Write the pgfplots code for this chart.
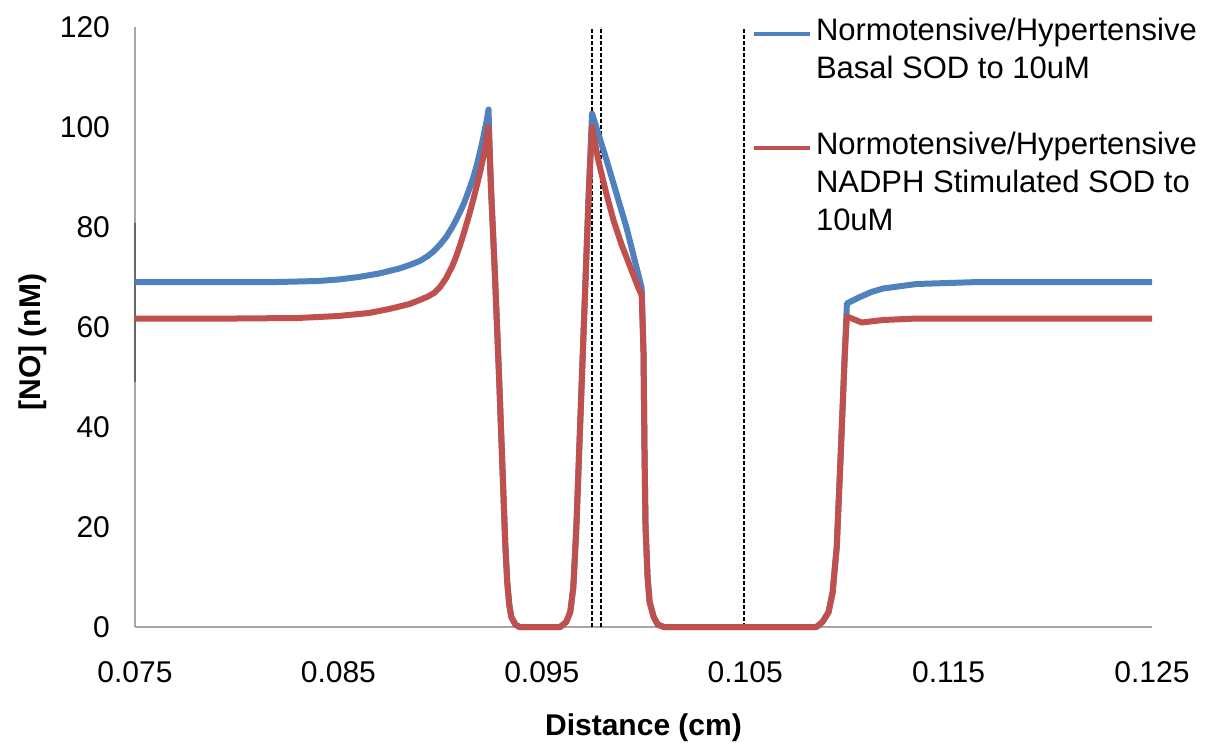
\documentclass[border=0pt]{standalone}
\usepackage{fontspec}
\setmainfont{Liberation Sans}
\usepackage{pgfplots}
\pgfplotsset{compat=1.18}
\definecolor{serblue}{HTML}{4F81BD}
\definecolor{serred}{HTML}{C0504D}
\definecolor{axgrey}{HTML}{A6A6A6}
\begin{document}
\begin{tikzpicture}
\useasboundingbox (-67.5pt,-59pt) rectangle (536.5pt,313.5pt);
\begin{axis}[
 scale only axis, width=508.5pt, height=300pt,
 xmin=0.075, xmax=0.125, ymin=0, ymax=120,
 axis x line=bottom, axis y line=left,
 axis line style={axgrey, line width=1pt, -},
 major tick length=0pt,
 xtick={0.075,0.085,0.095,0.105,0.115,0.125},
 xticklabels={0.075,0.085,0.095,0.105,0.115,0.125},
 ytick={0,20,40,60,80,100,120},
 tick label style={font=\fontsize{15}{18}\selectfont},
 xticklabel style={yshift=-13.5pt},
 yticklabel style={xshift=-9pt},
 /pgf/number format/assume math mode=true,
 xlabel={Distance (cm)},
 ylabel={[NO] (nM)},
 every axis x label/.style={at={(axis description cs:0.5,0)}, anchor=center, yshift=-50.5pt, font=\fontsize{15}{18}\selectfont\bfseries},
 every axis y label/.style={at={(axis description cs:0,0.475)}, anchor=center, xshift=-51pt, rotate=90, font=\fontsize{15}{18}\selectfont\bfseries},
 clip=false,
 legend cell align=left,
 legend style={draw=none, fill=none, at={(axis description cs:0.6067,1.02)}, anchor=north west,
   inner sep=0pt, outer sep=0pt, row sep=0pt, column sep=2pt,
   font=\fontsize{15.5}{18}\selectfont,
   nodes={inner sep=0pt, text height=13pt, text depth=6pt}},
 legend image code/.code={\path (0pt,-9pt); \draw[#1, line width=2pt] (0pt,0pt) -- (28pt,0pt);},
]
% dark segment on left axis
\addplot[forget plot, color=black!60, line width=1pt] coordinates {(0.075,49) (0.075,80.8)};
% dashed reference lines
\addplot[forget plot, black, line width=1.3pt, dash pattern=on 2pt off 1pt] coordinates {(0.09747,0) (0.09747,120)};
\addplot[forget plot, black, line width=0.9pt, dash pattern=on 2pt off 1pt] coordinates {(0.09791,0) (0.09791,120)};
\addplot[forget plot, black, line width=0.9pt, dash pattern=on 2pt off 1pt] coordinates {(0.10494,0) (0.10494,120)};
% Basal SOD
\addplot[forget plot, serblue, line width=3pt, line join=round] table {
x y
0.075 69
0.080 69
0.082 69
0.084 69.2
0.085 69.5
0.086 70
0.087 70.7
0.088 71.7
0.0885 72.4
0.089 73.2
0.0894 74.2
0.0897 75.2
0.0900 76.5
0.0903 78
0.0906 80
0.0908 81.5
0.0910 83.2
0.0912 85
0.0914 87.2
0.0916 89.5
0.0918 92.3
0.0919 94
0.0920 95.7
0.0921 97.5
0.0922 99.5
0.0923 101.5
0.09238 103.5
0.0925 88
0.0927 70
0.0929 50
0.0930 39
0.0931 28
0.0932 17
0.0933 9
0.0934 4.5
0.0935 2
0.0937 0.5
0.0939 0
0.0959 0
0.0962 1
0.0964 3
0.09655 8
0.0967 20
0.0969 42
0.0971 64
0.0973 86
0.09747 102.7
0.09819 93.3
0.09917 79.8
0.09991 67.8
0.1000 55
0.10005 35
0.1001 20
0.1002 10
0.1003 5
0.1005 2
0.1007 0.5
0.1010 0
0.1085 0
0.1088 1
0.1091 3
0.1093 7
0.1095 16
0.1097 35
0.1099 55
0.1100 64.7
0.11064 66
0.11120 67
0.11178 67.7
0.11343 68.6
0.1165 69
0.125 69
};
% NADPH stimulated SOD
\addplot[forget plot, serred, line width=3pt, line join=round] table {
x y
0.075 61.7
0.080 61.7
0.083 61.8
0.085 62.2
0.0865 62.8
0.0875 63.6
0.0885 64.6
0.0890 65.4
0.0894 66.1
0.0897 66.8
0.0900 68.0
0.0903 69.8
0.0906 72.2
0.0908 74.2
0.0910 76.6
0.0912 79.2
0.0914 82.0
0.0916 85.0
0.0918 88.2
0.0920 91.6
0.0922 95.4
0.09238 100
0.0925 88
0.0927 70
0.0929 50
0.0930 39
0.0931 28
0.0932 17
0.0933 9
0.0934 4.5
0.0935 2
0.0937 0.5
0.0939 0
0.0959 0
0.0962 1
0.0964 3
0.09655 8
0.0967 20
0.0969 42
0.0971 64
0.0973 86
0.09747 100
0.09778 93.3
0.09819 86.4
0.09855 81
0.09893 76.4
0.09935 72
0.09975 67.8
0.09991 66.4
0.1000 55
0.10005 35
0.1001 20
0.1002 10
0.1003 5
0.1005 2
0.1007 0.5
0.1010 0
0.1085 0
0.1088 1
0.1091 3
0.1093 7
0.1095 16
0.1097 35
0.1099 55
0.1100 62.1
0.11073 60.9
0.11178 61.4
0.11343 61.7
0.125 61.7
};
\addlegendimage{serblue}
\addlegendentry{Normotensive/Hypertensive}
\addlegendimage{empty legend}
\addlegendentry{Basal SOD to 10uM}
\addlegendimage{empty legend}
\addlegendentry{\mbox{}}
\addlegendimage{serred}
\addlegendentry{Normotensive/Hypertensive}
\addlegendimage{empty legend}
\addlegendentry{NADPH Stimulated SOD to}
\addlegendimage{empty legend}
\addlegendentry{10uM}
\end{axis}
\end{tikzpicture}
\end{document}
